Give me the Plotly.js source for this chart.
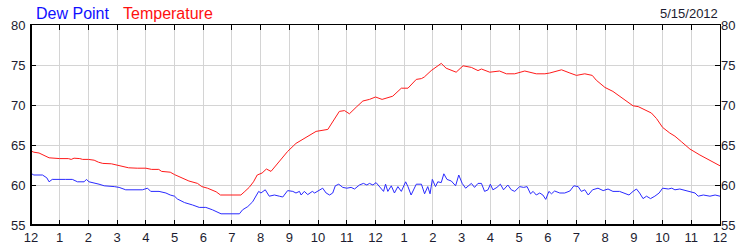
<!DOCTYPE html>
<html><head><meta charset="utf-8">
<script src="https://cdn.plot.ly/plotly-3.0.1.min.js"></script>
<style>html,body{margin:0;padding:0;background:#fff}#chart{width:750px;height:250px}</style>
</head><body><div id="chart"></div>
<script>
const tempHours = [0,0.1,0.28,0.45,0.63,1.0,1.3,1.4,1.5,1.7,1.8,2.0,2.2,2.35,2.5,2.8,3.0,3.2,3.4,3.7,4.0,4.2,4.45,4.55,4.85,5.0,5.25,5.5,5.8,5.95,6.15,6.3,6.45,6.6,7.31,7.45,7.6,7.75,7.88,8.05,8.2,8.36,8.65,8.94,9.23,9.46,9.7,9.93,10.34,10.5,10.74,10.92,11.09,11.35,11.56,11.79,12.0,12.23,12.6,12.9,13.13,13.42,13.6,13.7,13.94,14.29,14.46,14.81,15.05,15.34,15.57,15.69,15.98,16.32,16.56,16.85,17.2,17.6,17.9,18.07,18.48,18.77,19.0,19.29,19.55,19.69,19.99,20.27,20.5,20.74,20.97,21.15,21.32,21.61,21.79,22.0,22.25,22.43,22.66,22.95,23.3,23.65,24.0];
const tempValues = [64.25,64.1,64.0,63.7,63.4,63.3,63.3,63.2,63.35,63.3,63.2,63.2,63.1,62.85,62.7,62.65,62.5,62.3,62.15,62.1,62.1,61.95,61.95,61.7,61.6,61.3,60.85,60.5,60.2,59.8,59.6,59.4,59.15,58.75,58.75,59.2,59.7,60.4,61.25,61.5,62.0,61.7,62.9,64.2,65.2,65.7,66.25,66.7,66.95,67.8,69.2,69.3,68.9,69.8,70.5,70.7,71.0,70.7,71.1,72.1,72.1,73.2,73.3,73.5,74.3,75.2,74.6,74.1,74.9,74.7,74.3,74.5,74.1,74.25,73.9,73.9,74.25,73.9,73.9,74.0,74.4,74.0,73.7,73.9,73.7,73.1,72.2,71.7,71.1,70.4,69.9,69.8,69.5,69.0,68.3,67.2,66.5,66.1,65.4,64.5,63.75,63.1,62.4];

const dewHours = [0,0.1,0.4,0.55,0.63,0.74,1.21,1.44,1.62,1.85,1.93,2.02,2.37,2.55,2.9,3.07,3.3,3.88,4.06,4.17,4.46,4.7,4.85,5.0,5.1,5.35,5.63,5.86,6.09,6.32,6.62,7.26,7.37,7.55,7.72,7.93,8.01,8.16,8.3,8.48,8.65,8.77,8.94,9.12,9.23,9.35,9.41,9.52,9.64,9.8,9.88,10.05,10.16,10.28,10.4,10.51,10.6,10.72,10.86,11.0,11.15,11.27,11.44,11.58,11.7,11.79,11.91,12.02,12.14,12.28,12.35,12.43,12.55,12.66,12.78,12.9,13.05,13.13,13.24,13.42,13.6,13.71,13.82,13.9,13.98,14.09,14.17,14.29,14.38,14.49,14.64,14.79,14.9,15.02,15.14,15.25,15.34,15.45,15.57,15.69,15.8,15.92,16.0,16.09,16.23,16.35,16.46,16.61,16.73,16.85,17.02,17.16,17.28,17.4,17.49,17.6,17.72,17.83,17.93,18.04,18.13,18.24,18.42,18.59,18.77,18.91,19.06,19.17,19.29,19.41,19.56,19.75,19.93,20.1,20.27,20.5,20.68,20.83,20.97,21.09,21.2,21.32,21.44,21.58,21.73,21.88,22.0,22.2,22.32,22.43,22.6,22.78,22.95,23.13,23.24,23.42,23.65,23.83,24.0];
const dewValues = [61.45,61.25,61.25,60.9,60.4,60.7,60.7,60.7,60.4,60.4,60.7,60.4,60.1,59.9,59.8,59.7,59.4,59.4,59.6,59.2,59.2,59.0,58.75,58.6,58.25,57.8,57.5,57.2,57.2,56.9,56.4,56.4,56.9,57.3,57.9,59.2,59.0,59.4,58.6,58.75,58.6,58.5,59.3,59.2,59.0,59.2,58.75,59.2,58.8,59.2,59.0,59.4,59.6,59.0,58.75,59.0,59.9,60.1,59.7,59.6,59.7,59.5,60.0,60.2,60.0,60.2,60.0,60.3,59.8,59.2,60.1,59.2,59.9,59.0,59.8,59.2,60.4,59.8,58.75,60.1,60.1,58.9,59.8,58.9,60.7,59.8,60.4,60.3,61.4,60.7,60.5,59.9,61.25,60.2,59.6,60.0,60.2,59.7,60.2,60.2,59.2,59.4,60.1,59.4,59.7,60.1,59.4,60.0,59.4,59.2,59.8,59.7,59.8,58.9,59.2,58.75,59.0,58.75,58.2,59.2,58.9,59.25,59.0,59.0,59.25,59.9,59.8,59.2,59.4,58.75,59.4,59.6,59.3,59.5,59.2,59.2,58.9,58.75,59.2,59.5,59.0,58.3,58.6,58.3,58.6,59.0,59.6,59.5,59.6,59.4,59.5,59.3,59.2,59.0,58.6,58.75,58.6,58.75,58.6];

const xTickVals = [0,1,2,3,4,5,6,7,8,9,10,11,12,13,14,15,16,17,18,19,20,21,22,23,24];
const xTickText = ['12','1','2','3','4','5','6','7','8','9','10','11','12','1','2','3','4','5','6','7','8','9','10','11','12'];
const yTickVals = [55,60,65,70,75,80];
const seriesNames = ['Dew Point','Temperature'];
const dateLabel = '5/15/2012';

const FONT = 'Liberation Sans, Arial, sans-serif';
const TXT = '#1c1c30';

const traces = [
  {x: dewHours, y: dewValues, type:'scatter', mode:'lines', name:seriesNames[0],
   line:{color:'#2a2aff', width:1}, hoverinfo:'skip'},
  {x: tempHours, y: tempValues, type:'scatter', mode:'lines', name:seriesNames[1],
   line:{color:'#ff1a1a', width:1}, hoverinfo:'skip'},
  {x: [0], y: [55], yaxis:'y2', type:'scatter', mode:'markers', marker:{opacity:0}, showlegend:false, hoverinfo:'skip'}
];

const yCommon = {
  range:[55,80], tickvals:yTickVals, ticks:'inside', ticklen:5, tickcolor:'#000',
  showgrid:true, gridcolor:'#d4d4d4', gridwidth:1, zeroline:false,
  tickfont:{family:FONT, size:13, color:TXT}, fixedrange:true
};

const layout = {
  width:750, height:250, margin:{l:31, r:30, t:25, b:25},
  paper_bgcolor:'#fff', plot_bgcolor:'#fff', showlegend:false,
  xaxis:{range:[0,24], tickvals:xTickVals, ticktext:xTickText, ticks:'inside', ticklen:5,
    tickcolor:'#000', showline:true, linecolor:'#000', linewidth:1, mirror:'ticks',
    showgrid:true, gridcolor:'#d4d4d4', gridwidth:1, zeroline:false,
    tickfont:{family:FONT, size:13, color:TXT}, fixedrange:true},
  yaxis:Object.assign({}, yCommon, {side:'left', showline:true, linecolor:'#000', linewidth:1, mirror:'ticks', ticklabelstandoff:2}),
  yaxis2:Object.assign({}, yCommon, {side:'right', overlaying:'y', showgrid:false, showline:false}),
  shapes:[
    {type:'line', xref:'paper', yref:'paper', x0:0, x1:0, y0:0, y1:1, line:{color:'#000', width:2}},
    {type:'line', xref:'paper', yref:'paper', x0:0, x1:1, y0:0, y1:0, line:{color:'#000', width:2}}
  ],
  annotations:[
    {xref:'paper', yref:'paper', x:0.004, y:1, yshift:1, xanchor:'left', yanchor:'bottom', showarrow:false,
     text:seriesNames[0], font:{family:FONT, size:16, color:'#1010ff'}},
    {xref:'paper', yref:'paper', x:0.13, y:1, yshift:1, xanchor:'left', yanchor:'bottom', showarrow:false,
     text:seriesNames[1], font:{family:FONT, size:16, color:'#ff1010'}},
    {xref:'paper', yref:'paper', x:1, y:1, yshift:2, xanchor:'right', yanchor:'bottom', showarrow:false,
     text:dateLabel, font:{family:FONT, size:13, color:TXT}}
  ]
};

Plotly.newPlot('chart', traces, layout, {staticPlot:true, displayModeBar:false});
</script>
</body></html>
